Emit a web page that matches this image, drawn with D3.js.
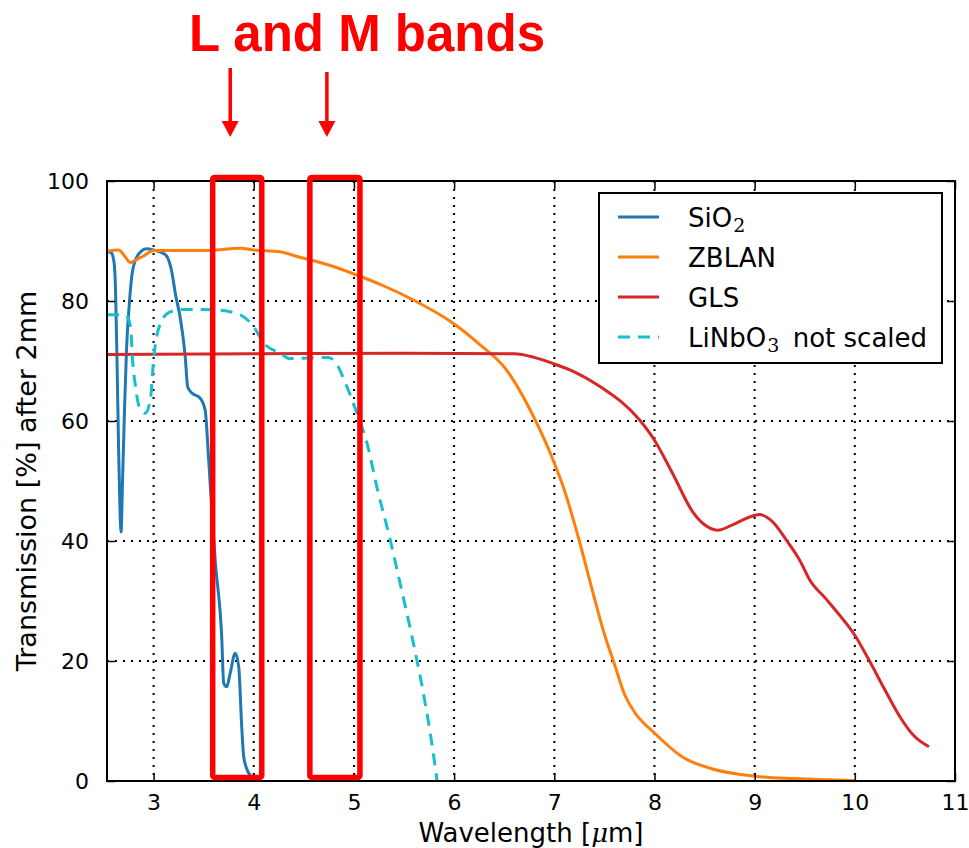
<!DOCTYPE html>
<html>
<head>
<meta charset="utf-8">
<script src="https://cdn.jsdelivr.net/npm/d3@7"></script>
<style>
  body { margin: 0; background: #fff; }
  svg { display: block; }
</style>
</head>
<body>
<div id="chart"></div>
<script>
// transmission curves
var sio2X = [2.535, 2.58, 2.605, 2.62, 2.635, 2.65, 2.665, 2.675, 2.69, 2.71, 2.73, 2.76, 2.79, 2.85, 2.93, 3.0, 3.12, 3.18, 3.22, 3.27, 3.316, 3.34, 3.38, 3.465, 3.515, 3.55, 3.615, 3.68, 3.70, 3.73, 3.765, 3.815, 3.85, 3.88, 3.90, 3.95, 4.0];
var sio2Y = [88.3, 88.0, 86.5, 82, 70, 56, 45, 41.5, 50, 62, 72, 80, 85, 87.8, 88.7, 88.5, 87.7, 85, 81, 76.8, 70.7, 65.7, 64.7, 63.8, 61.8, 53.5, 36.8, 24, 16.3, 15.7, 18, 21.3, 19, 9, 4, 1.3, 0.5];

var zblanX = [2.535, 2.65, 2.72, 2.767, 2.82, 2.9, 3.0, 3.5, 3.87, 4.0, 4.26, 4.46, 4.75, 5.0, 5.3, 5.59, 5.99, 6.26, 6.5, 6.8, 7.0, 7.1, 7.25, 7.4, 7.5, 7.6, 7.7, 7.8, 8.0, 8.28, 8.58, 9.0, 9.4, 10.0];
var zblanY = [88.3, 88.5, 87.3, 86.4, 86.8, 87.5, 88.4, 88.4, 88.8, 88.5, 88.2, 87.3, 86.0, 84.5, 82.5, 80.2, 76.3, 72.7, 69, 60.5, 53, 48.5, 40, 30.5, 24.5, 19.5, 14.5, 11.5, 8, 4, 2, 0.8, 0.4, 0.05];

var glsX = [2.535, 4.0, 5.5, 6.6, 6.8, 7.0, 7.2, 7.46, 7.85, 8.0, 8.18, 8.38, 8.5, 8.63, 8.78, 8.95, 9.05, 9.18, 9.315, 9.45, 9.55, 9.71, 9.85, 10.0, 10.14, 10.3, 10.45, 10.58, 10.74];
var glsY = [71.1, 71.2, 71.3, 71.2, 70.6, 69.5, 68.2, 65.7, 60.2, 56.8, 51.3, 44.9, 42.7, 41.8, 42.7, 44, 44.4, 43.2, 40.2, 36.8, 33.5, 30.4, 27.6, 24.3, 20.2, 15.2, 10.7, 7.7, 5.7];

var linboX = [2.535, 2.72, 2.77, 2.79, 2.82, 2.86, 2.917, 2.97, 2.99, 3.0, 3.07, 3.165, 3.3, 3.63, 3.865, 4.0, 4.1, 4.26, 4.36, 4.55, 4.745, 4.81, 4.93, 5.03, 5.13, 5.24, 5.35, 5.46, 5.58, 5.7, 5.78, 5.83];
var linboY = [77.7, 77.7, 75.7, 70.2, 65.7, 62.2, 61.3, 63.8, 68, 70.2, 76.3, 78.2, 78.6, 78.5, 77.7, 75.7, 73, 71.3, 70.4, 70.5, 70.6, 69.9, 65.7, 61.3, 56.3, 48.2, 41, 33, 24, 14, 6, 0];

var seriesNames = ["SiO2", "ZBLAN", "GLS", "LiNbO3 not scaled"];
var seriesColors = ["#1f77b4", "#ff7f0e", "#d62728", "#17becf"];

var xTicks = [3, 4, 5, 6, 7, 8, 9, 10, 11];
var yTicks = [0, 20, 40, 60, 80, 100];

// highlighted bands [start, end] in micrometres, arrow positions
var bands = [[3.59, 4.08], [4.56, 5.06]];
var arrowsAt = [3.765, 4.73];
var titleText = "L and M bands";

var W = 969, H = 848;
var plotLeft = 107, plotRight = 955, plotTop = 181, plotBottom = 781;
var sans = '"DejaVu Sans", sans-serif';

var svg = d3.select('#chart').append('svg')
    .attr('width', W)
    .attr('height', H)
    .style('font-family', sans);

var x = d3.scaleLinear().domain([2.535, 11]).range([plotLeft, plotRight]);
var y = d3.scaleLinear().domain([0, 100]).range([plotBottom, plotTop]);

// grid
svg.append('g').selectAll('line').data(xTicks.slice(0, -1)).join('line')
    .attr('x1', d => x(d)).attr('x2', d => x(d))
    .attr('y1', plotTop).attr('y2', plotBottom)
    .attr('stroke', '#000').attr('stroke-width', 2)
    .attr('stroke-dasharray', '2,6');
svg.append('g').selectAll('line').data(yTicks.slice(1, -1)).join('line')
    .attr('x1', plotLeft).attr('x2', plotRight)
    .attr('y1', d => y(d)).attr('y2', d => y(d))
    .attr('stroke', '#000').attr('stroke-width', 2)
    .attr('stroke-dasharray', '2,6');

// curves
var line = d3.line()
    .x(d => x(d[0]))
    .y(d => y(d[1]))
    .curve(d3.curveMonotoneX);

var curves = [
    d3.zip(sio2X, sio2Y),
    d3.zip(zblanX, zblanY),
    d3.zip(glsX, glsY),
    d3.zip(linboX, linboY)
];

var plot = svg.append('g');
curves.forEach((c, i) => {
    plot.append('path')
        .attr('d', line(c))
        .attr('fill', 'none')
        .attr('stroke', seriesColors[i])
        .attr('stroke-width', 3)
        .attr('stroke-linejoin', 'round')
        .attr('stroke-dasharray', i == 3 ? '12,8' : null);
});

// axes, ticks inward on all four sides
function inward(axis, g) {
    g.call(axis);
    g.select('.domain').remove();
    g.selectAll('.tick line').attr('stroke', '#000').attr('stroke-width', 1.5);
    g.selectAll('text').style('font-family', sans).attr('fill', '#000');
}
var fontTick = 22;
var gb = svg.append('g').attr('transform', `translate(0,${plotBottom})`);
inward(d3.axisBottom(x).tickValues(xTicks).tickSize(-8).tickPadding(13).tickFormat(d3.format('d')), gb);
gb.selectAll('text').attr('font-size', fontTick).attr('dy', '0.71em');
var gt = svg.append('g').attr('transform', `translate(0,${plotTop})`);
inward(d3.axisTop(x).tickValues(xTicks).tickSize(-8).tickFormat(''), gt);
var gl = svg.append('g').attr('transform', `translate(${plotLeft},0)`);
inward(d3.axisLeft(y).tickValues(yTicks).tickSize(-8).tickPadding(18), gl);
gl.selectAll('text').attr('font-size', fontTick);
var gr = svg.append('g').attr('transform', `translate(${plotRight},0)`);
inward(d3.axisRight(y).tickValues(yTicks).tickSize(-8).tickFormat(''), gr);

svg.append('rect')
    .attr('x', plotLeft).attr('y', plotTop)
    .attr('width', plotRight - plotLeft).attr('height', plotBottom - plotTop)
    .attr('fill', 'none').attr('stroke', '#000').attr('stroke-width', 2);

// axis labels
svg.append('text')
    .attr('x', 531).attr('y', 842)
    .attr('text-anchor', 'middle').attr('font-size', 26)
    .html('Wavelength [<tspan style="font-family:\'DejaVu Serif\';font-style:italic">μ</tspan>m]');
svg.append('text')
    .attr('transform', `translate(36,${(plotTop + plotBottom) / 2}) rotate(-90)`)
    .attr('text-anchor', 'middle').attr('font-size', 27)
    .text('Transmission [%] after 2mm');

// legend
var lg = svg.append('g');
lg.append('rect')
    .attr('x', 599).attr('y', 193).attr('width', 343).attr('height', 170)
    .attr('fill', '#fff').attr('stroke', '#000').attr('stroke-width', 2);
seriesNames.forEach((name, i) => {
    var yy = 217 + i * 40;
    lg.append('line')
        .attr('x1', 618).attr('x2', 659).attr('y1', yy).attr('y2', yy)
        .attr('stroke', seriesColors[i]).attr('stroke-width', 3)
        .attr('stroke-dasharray', i == 3 ? '12,8' : null);
    var t = lg.append('text').attr('x', 688).attr('y', yy + 10).attr('font-size', 26);
    var m = name.match(/^([A-Za-z]+?)(\d)(.*)$/);
    if (m) {
        t.append('tspan').text(m[1]);
        t.append('tspan').style('font-family', '"DejaVu Serif", serif').attr('font-size', 19)
            .attr('dx', 1).attr('dy', 5).text(m[2]);
        t.append('tspan').attr('dy', -5).text(m[3] ? '\u00a0\u2009' + m[3].trim() : '');
    } else {
        t.text(name);
    }
});

// band annotations
svg.append('g').selectAll('rect').data(bands).join('rect')
    .attr('x', d => x(d[0])).attr('y', y(100.6))
    .attr('width', d => x(d[1]) - x(d[0]))
    .attr('height', y(0.6) - y(100.6))
    .attr('rx', 2)
    .attr('fill', 'none').attr('stroke', '#ff0000').attr('stroke-width', 5.5);

var ag = svg.append('g');
arrowsAt.forEach((a, i) => {
    var ax = x(a);
    var y0 = i == 0 ? 68 : 72;
    ag.append('line')
        .attr('x1', ax).attr('x2', ax).attr('y1', y0).attr('y2', 124)
        .attr('stroke', '#ff0000').attr('stroke-width', 3.5);
    ag.append('path')
        .attr('d', `M${ax - 8.5},121 L${ax + 8.5},121 L${ax},137 Z`)
        .attr('fill', '#ff0000');
});

svg.append('text')
    .attr('x', 367).attr('y', 51)
    .attr('text-anchor', 'middle')
    .style('font-family', '"Liberation Sans", Arial, sans-serif')
    .attr('font-weight', 'bold').attr('font-size', 51)
    .attr('fill', '#ff0000')
    .text(titleText);
</script>
</body>
</html>
